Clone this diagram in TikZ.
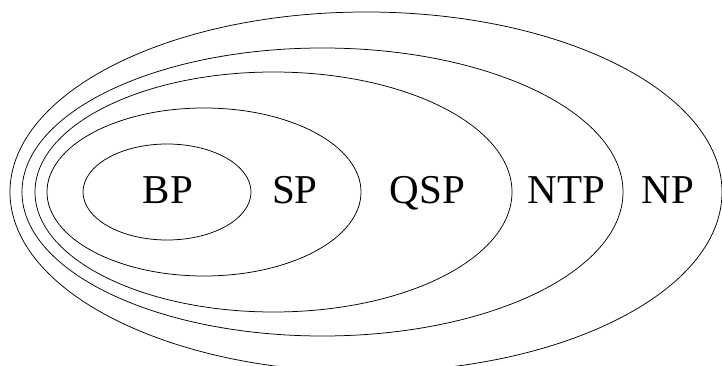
\documentclass[tikz,border=0pt]{standalone}
\usepackage{fontspec}
\setmainfont{Liberation Serif}
\begin{document}
\begin{tikzpicture}[x=1pt,y=-1pt,
  setline/.style={line width=0.75pt},
  lbl/.style={font=\fontsize{41}{41}\selectfont, inner sep=0pt, anchor=base}]
\useasboundingbox (0,0) rectangle (722,366);
\clip (0,0) rectangle (722,366);
% sets
\draw[setline] (366,192) ellipse [x radius=356pt, y radius=180pt];
\draw[setline] (322.5,192) ellipse [x radius=300.5pt, y radius=144pt];
\draw[setline] (273.5,192) ellipse [x radius=238.5pt, y radius=120pt];
\draw[setline] (204,192) ellipse [x radius=157pt, y radius=84pt];
\draw[setline] (167,192) ellipse [x radius=84pt, y radius=48pt];
% labels
\node[lbl] (bp)  at (168,203.3)   {BP};
\node[lbl] (sp)  at (295,203.3)   {SP};
\node[lbl] (qsp) at (427.5,203.3) {QSP};
\node[lbl] (ntp) at (566.5,203.3) {NTP};
\node[lbl] (np)  at (668,203.3)   {NP};
\end{tikzpicture}
\end{document}
